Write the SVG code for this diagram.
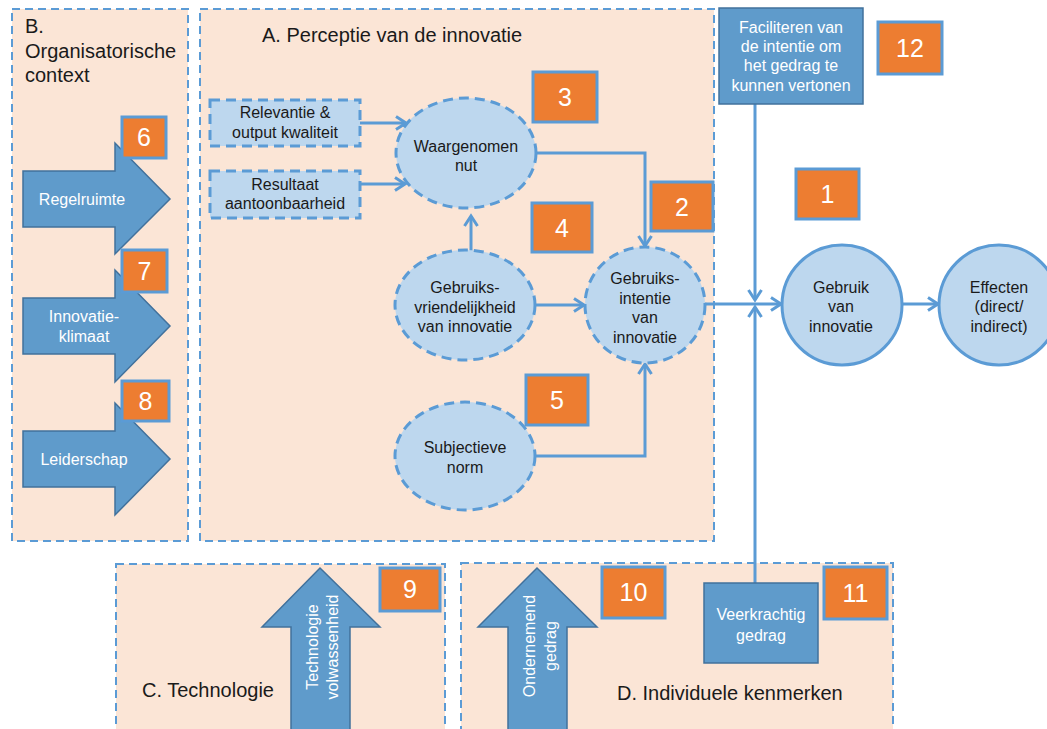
<svg xmlns="http://www.w3.org/2000/svg" width="1047" height="729" viewBox="0 0 1047 729">
<defs>
<marker id="arr" markerUnits="userSpaceOnUse" markerWidth="16" markerHeight="16" refX="13" refY="8" orient="auto" viewBox="0 0 16 16">
<path d="M3,1.5 L13,8 L3,14.5" fill="none" stroke="#5B9BD5" stroke-width="3"/>
</marker>
</defs>
<style>
.panel{fill:#FBE5D6;stroke:#5B9BD5;stroke-width:2;stroke-dasharray:8 5}
.ptxt{font-family:"Liberation Sans",Arial,sans-serif;font-size:20px;fill:#1a1a1a}
.num rect{fill:#ED7D31;stroke:#5B9BD5;stroke-width:3}
.num text{font-family:"Liberation Sans",Arial,sans-serif;font-size:25px;fill:#ffffff;text-anchor:middle}
.blk{fill:#5F9BCB;stroke:#41719C;stroke-width:1.5}
.wt{font-family:"Liberation Sans",Arial,sans-serif;font-size:16px;fill:#ffffff;text-anchor:middle}
.dt{font-family:"Liberation Sans",Arial,sans-serif;font-size:16px;fill:#1a1a1a;text-anchor:middle}
.dsh{fill:#BDD7EE;stroke:#5B9BD5;stroke-width:3;stroke-dasharray:10 6}
.sol{fill:#BDD7EE;stroke:#5B9BD5;stroke-width:3}
.con{fill:none;stroke:#5B9BD5;stroke-width:3}
</style>
<rect width="1047" height="729" fill="#ffffff"/>

<g id="panelB">
<rect class="panel" x="12" y="9" width="176" height="532"/>
<text class="ptxt" x="25" y="33">B.</text>
<text class="ptxt" x="25" y="58">Organisatorische</text>
<text class="ptxt" x="25" y="82">context</text>
</g>
<g id="panelA">
<rect class="panel" x="200" y="9" width="514" height="532"/>
<text class="ptxt" x="262" y="42">A. Perceptie van de innovatie</text>
</g>
<g id="panelC">
<rect class="panel" x="116" y="564" width="329" height="180"/>
<text class="ptxt" x="142" y="697">C. Technologie</text>
</g>
<g id="panelD">
<rect class="panel" x="461" y="563" width="432" height="180"/>
<text class="ptxt" x="617" y="700">D. Individuele kenmerken</text>
</g>

<g id="connectors">
<line class="con" x1="360" y1="123" x2="406" y2="123" marker-end="url(#arr)"/>
<line class="con" x1="360" y1="184" x2="405" y2="184" marker-end="url(#arr)"/>
<line class="con" x1="471" y1="252" x2="471" y2="216" marker-end="url(#arr)"/>
<polyline class="con" points="536,153 645,153 645,246" marker-end="url(#arr)"/>
<line class="con" x1="536" y1="305" x2="584" y2="305" marker-end="url(#arr)"/>
<polyline class="con" points="536,456 645,456 645,364" marker-end="url(#arr)"/>
<line class="con" x1="705" y1="304" x2="781" y2="304" marker-end="url(#arr)"/>
<line class="con" x1="755" y1="104" x2="755" y2="300" marker-end="url(#arr)"/>
<line class="con" x1="755" y1="583" x2="755" y2="307" marker-end="url(#arr)"/>
<line class="con" x1="903" y1="304" x2="938" y2="304" marker-end="url(#arr)"/>
</g>

<g id="regelruimte">
<polygon class="blk" points="23,171 115,171 115,143 170,199 115,254 115,227 23,227"/>
<text class="wt" x="82" y="205">Regelruimte</text>
</g>
<g id="innovatieklimaat">
<polygon class="blk" points="23,298 115,298 115,270 170,326 115,382 115,354 23,354"/>
<text class="wt" x="84" y="322">Innovatie-</text>
<text class="wt" x="84" y="342">klimaat</text>
</g>
<g id="leiderschap">
<polygon class="blk" points="23,431 115,431 115,403 170,459 115,515 115,487 23,487"/>
<text class="wt" x="84" y="465">Leiderschap</text>
</g>

<g id="relevantie">
<rect class="dsh" x="210" y="100" width="150" height="46"/>
<text class="dt" x="285" y="118">Relevantie &amp;</text>
<text class="dt" x="285" y="138">output kwaliteit</text>
</g>
<g id="resultaat">
<rect class="dsh" x="210" y="171" width="150" height="47"/>
<text class="dt" x="285" y="190">Resultaat</text>
<text class="dt" x="285" y="209">aantoonbaarheid</text>
</g>
<g id="waargenomen">
<ellipse class="dsh" cx="466" cy="153" rx="70" ry="55"/>
<text class="dt" x="466" y="152">Waargenomen</text>
<text class="dt" x="466" y="171">nut</text>
</g>
<g id="vriendelijkheid">
<ellipse class="dsh" cx="465" cy="305" rx="70" ry="55"/>
<text class="dt" x="465" y="293">Gebruiks-</text>
<text class="dt" x="465" y="313">vriendelijkheid</text>
<text class="dt" x="465" y="332">van innovatie</text>
</g>
<g id="intentie">
<ellipse class="dsh" cx="645" cy="305" rx="60" ry="58"/>
<text class="dt" x="645" y="284">Gebruiks-</text>
<text class="dt" x="645" y="304">intentie</text>
<text class="dt" x="645" y="323">van</text>
<text class="dt" x="645" y="343">innovatie</text>
</g>
<g id="subjectieve">
<ellipse class="dsh" cx="465" cy="456" rx="70" ry="54"/>
<text class="dt" x="465" y="453">Subjectieve</text>
<text class="dt" x="465" y="473">norm</text>
</g>
<g id="gebruik">
<circle class="sol" cx="842" cy="305" r="60"/>
<text class="dt" x="841" y="293">Gebruik</text>
<text class="dt" x="841" y="312">van</text>
<text class="dt" x="841" y="332">innovatie</text>
</g>
<g id="effecten">
<circle class="sol" cx="999" cy="305" r="60"/>
<text class="dt" x="999" y="293">Effecten</text>
<text class="dt" x="999" y="312">(direct/</text>
<text class="dt" x="999" y="332">indirect)</text>
</g>
<g id="faciliteren">
<rect class="blk" x="719" y="8" width="144" height="96"/>
<text class="wt" x="791" y="33">Faciliteren van</text>
<text class="wt" x="791" y="52">de intentie om</text>
<text class="wt" x="791" y="71">het gedrag te</text>
<text class="wt" x="791" y="91">kunnen  vertonen</text>
</g>
<g id="veerkrachtig">
<rect class="blk" x="704" y="583" width="114" height="80"/>
<text class="wt" x="761" y="620">Veerkrachtig</text>
<text class="wt" x="761" y="641">gedrag</text>
</g>
<g id="technologie">
<polygon class="blk" points="320,568 380,627 350,627 350,735 291,735 291,627 262,627"/>
<text class="wt" transform="translate(318,647) rotate(-90)">Technologie</text>
<text class="wt" transform="translate(338,647) rotate(-90)">volwassenheid</text>
</g>
<g id="ondernemend">
<polygon class="blk" points="537,568 597,627 567,627 567,735 508,735 508,627 478,627"/>
<text class="wt" transform="translate(535,646) rotate(-90)">Ondernemend</text>
<text class="wt" transform="translate(556,646) rotate(-90)">gedrag</text>
</g>

<g id="n1" class="num"><rect x="796" y="169" width="63" height="50"/><text x="827.5" y="203">1</text></g>
<g id="n2" class="num"><rect x="651" y="182" width="62" height="49"/><text x="682" y="216">2</text></g>
<g id="n3" class="num"><rect x="533" y="72" width="64" height="50"/><text x="565" y="106">3</text></g>
<g id="n4" class="num"><rect x="532" y="203" width="60" height="49"/><text x="562" y="237">4</text></g>
<g id="n5" class="num"><rect x="526" y="375" width="62" height="50"/><text x="557" y="409">5</text></g>
<g id="n6" class="num"><rect x="122" y="117" width="44" height="41"/><text x="144" y="146">6</text></g>
<g id="n7" class="num"><rect x="122" y="250" width="45" height="42"/><text x="144.5" y="280">7</text></g>
<g id="n8" class="num"><rect x="122" y="381" width="47" height="40"/><text x="145.5" y="410">8</text></g>
<g id="n9" class="num"><rect x="380" y="568" width="60" height="43"/><text x="410" y="598">9</text></g>
<g id="n10" class="num"><rect x="602" y="567" width="63" height="51"/><text x="633.5" y="601">10</text></g>
<g id="n11" class="num"><rect x="824" y="567" width="63" height="52"/><text x="855.5" y="602">11</text></g>
<g id="n12" class="num"><rect x="878" y="22" width="64" height="52"/><text x="910" y="57">12</text></g>
</svg>
